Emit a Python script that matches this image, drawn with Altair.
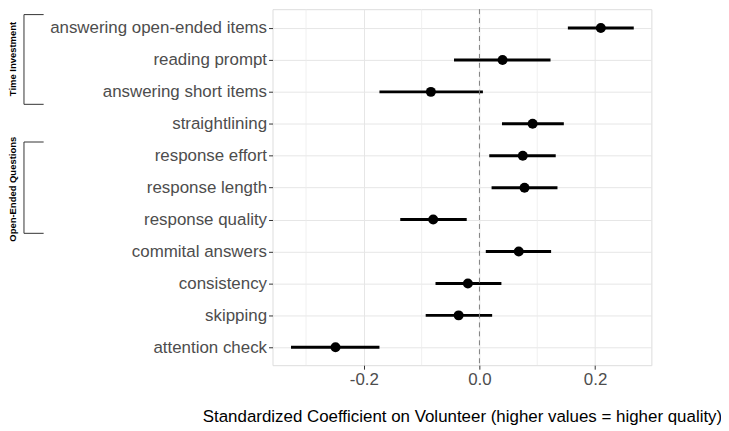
import altair as alt
import pandas as pd

# ---- data ----
outcomes = [
    "answering open-ended items", "reading prompt", "answering short items",
    "straightlining", "response effort", "response length", "response quality",
    "commital answers", "consistency", "skipping", "attention check",
]
estimate = [0.210, 0.040, -0.084, 0.092, 0.075, 0.078, -0.080, 0.068, -0.020, -0.036, -0.249]
ci_low = [0.153, -0.044, -0.173, 0.039, 0.017, 0.021, -0.137, 0.011, -0.076, -0.093, -0.326]
ci_high = [0.267, 0.123, 0.006, 0.146, 0.132, 0.135, -0.022, 0.124, 0.038, 0.022, -0.173]

x_major = [-0.2, 0.0, 0.2]
x_minor = [-0.3, -0.1, 0.1]

group_names = ["Time Investment", "Open-Ended Questions"]
group_top = [0.58, 4.57]
group_bottom = [3.39, 7.43]
group_center = [1.97, 6.05]
bracket_x = -0.788
bracket_arm = -0.754
group_text_x = -0.807

FONT = "Liberation Sans"

df = pd.DataFrame({
    "outcome": outcomes,
    "row": list(range(1, len(outcomes) + 1)),
    "est": estimate,
    "lo": ci_low,
    "hi": ci_high,
})

groups = pd.DataFrame({
    "name": group_names,
    "top": group_top,
    "bottom": group_bottom,
    "center": group_center,
    "bx": [bracket_x] * 2,
    "arm": [bracket_arm] * 2,
    "tx": [group_text_x] * 2,
})

label_array = "[''," + ",".join("'" + o + "'" for o in outcomes) + "]"

x_scale = alt.Scale(domain=[-0.358, 0.2975], nice=False, zero=False)
y_scale = alt.Scale(domain=[0.41, 11.56], reverse=True, nice=False, zero=False)

x_axis = alt.Axis(
    values=x_major, format=".1f", labelExpr="replace(datum.label, '\u2212', '-')",
    grid=True, gridColor="#e6e6e6", gridWidth=1,
    domain=False, tickColor="#333333", tickSize=4, labelPadding=2,
    labelFontSize=17, labelColor="#4d4d4d", labelFont=FONT,
    title="Standardized Coefficient on Volunteer (higher values = higher quality)",
    titleFontSize=17, titleFont=FONT, titleFontWeight="normal", titleColor="#000000",
    titlePadding=22,
)
y_axis = alt.Axis(
    values=list(range(1, len(outcomes) + 1)), labelExpr=label_array + "[datum.value]",
    labelOverlap=False, labelLimit=400, tickCount=len(outcomes),
    grid=True, gridColor="#e6e6e6", gridWidth=1, domain=False,
    tickColor="#333333", tickSize=4, labelPadding=2,
    labelFontSize=17, labelColor="#4d4d4d", labelFont=FONT, title=None,
)

base = alt.Chart(df)

minor = alt.Chart(pd.DataFrame({"v": x_minor})).mark_rule(
    color="#ececec", strokeWidth=0.8
).encode(x=alt.X("v:Q", scale=x_scale, axis=x_axis))

zero = alt.Chart(pd.DataFrame({"v": [0.0]})).mark_rule(
    color="#808080", strokeWidth=1, strokeDash=[5, 4]
).encode(x=alt.X("v:Q", scale=x_scale, axis=x_axis))

bars = base.mark_rule(color="black", strokeWidth=3).encode(
    x=alt.X("lo:Q", scale=x_scale, axis=x_axis), x2="hi:Q",
    y=alt.Y("row:Q", scale=y_scale, axis=y_axis),
)
points = base.mark_circle(color="black", opacity=1, size=100).encode(
    x=alt.X("est:Q", scale=x_scale, axis=x_axis),
    y=alt.Y("row:Q", scale=y_scale, axis=y_axis),
)

gbase = alt.Chart(groups)
vline = gbase.mark_rule(color="#333333", strokeWidth=1).encode(
    x=alt.X("bx:Q", scale=x_scale, axis=x_axis),
    y=alt.Y("top:Q", scale=y_scale, axis=y_axis), y2="bottom:Q",
)
top_arm = gbase.mark_rule(color="#333333", strokeWidth=1).encode(
    x=alt.X("bx:Q", scale=x_scale, axis=x_axis), x2="arm:Q",
    y=alt.Y("top:Q", scale=y_scale, axis=y_axis),
)
bot_arm = gbase.mark_rule(color="#333333", strokeWidth=1).encode(
    x=alt.X("bx:Q", scale=x_scale, axis=x_axis), x2="arm:Q",
    y=alt.Y("bottom:Q", scale=y_scale, axis=y_axis),
)
gtext = gbase.mark_text(
    angle=270, align="center", baseline="middle", fontSize=9.5,
    fontWeight="bold", font=FONT, color="#000000",
).encode(
    x=alt.X("tx:Q", scale=x_scale, axis=x_axis),
    y=alt.Y("center:Q", scale=y_scale, axis=y_axis), text="name:N",
)

chart = alt.layer(
    minor, bars, zero, points, vline, top_arm, bot_arm, gtext
).properties(
    width=381, height=358,
    autosize=alt.AutoSizeParams(type="none"),
    padding={"left": 266, "top": 0, "right": 70, "bottom": 65},
).configure_view(
    stroke="#666666", strokeWidth=1
).configure_axis(
    labelOverlap=False
).configure(background="white")

chart.save("out.html", embed_options={"renderer": "svg", "actions": False})
